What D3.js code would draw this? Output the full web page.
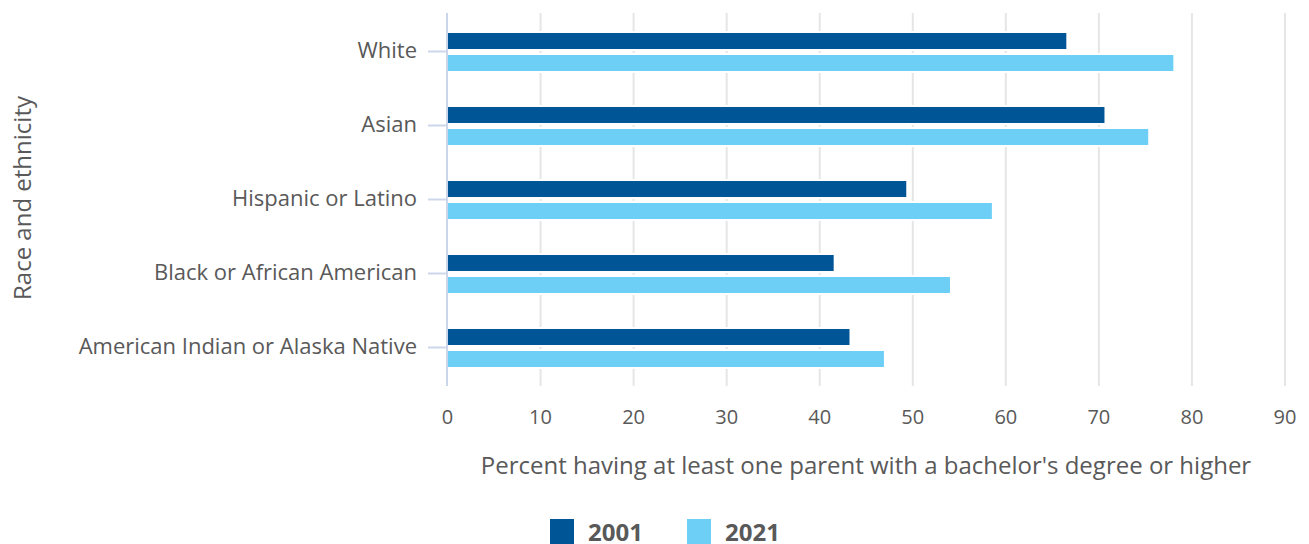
<!DOCTYPE html>
<html>
<head>
<meta charset="utf-8">
<script src="https://cdn.jsdelivr.net/npm/d3@7"></script>
<style>
  html, body { margin: 0; padding: 0; background: #fff; }
  svg { display: block; font-family: "Open Sans", sans-serif; }
</style>
</head>
<body>
<svg id="chart" width="1309" height="544"></svg>
<script>
const categories = ["White", "Asian", "Hispanic or Latino", "Black or African American", "American Indian or Alaska Native"];
const seriesNames = ["2001", "2021"];
const values2001 = [66.5, 70.6, 49.3, 41.5, 43.2];
const values2021 = [78.0, 75.3, 58.5, 54.0, 46.9];
const xTicks = [0, 10, 20, 30, 40, 50, 60, 70, 80, 90];
const xTitle = "Percent having at least one parent with a bachelor's degree or higher";
const yTitle = "Race and ethnicity";
const colors = ["#005596", "#6dcff6"];

(function () {
const svg = d3.select("#chart");
const mLeft = 447.5, mRight = 1285, mTop = 15, mBottom = 385;

const x = d3.scaleLinear().domain([0, 90]).range([mLeft, mRight]);
const y = d3.scaleBand().domain(categories).range([mTop, mBottom]).padding(0);
const inner = d3.scaleBand().domain(seriesNames).range([18, 56]).paddingInner(6 / 22).paddingOuter(0);

const textColor = "#595959";

// gridlines
svg.append("g").selectAll("line").data(xTicks.filter(d => d > 0)).join("line")
  .attr("x1", d => x(d)).attr("x2", d => x(d))
  .attr("y1", 13).attr("y2", 386)
  .attr("stroke", "#e6e6e6").attr("stroke-width", 2);

// x tick labels
svg.append("g").selectAll("text").data(xTicks).join("text")
  .attr("x", d => x(d)).attr("y", 424)
  .attr("text-anchor", "middle")
  .attr("font-size", 20).attr("fill", textColor)
  .text(d => d);

// bars
const data = [];
categories.forEach((c, i) => {
  data.push({ cat: c, s: "2001", v: values2001[i], color: colors[0] });
  data.push({ cat: c, s: "2021", v: values2021[i], color: colors[1] });
});
const gBars = svg.append("g");
gBars.selectAll("rect.bg").data(data).join("rect").attr("class", "bg")
  .attr("x", x(0)).attr("y", d => y(d.cat) + inner(d.s) - 2)
  .attr("width", d => x(d.v) - x(0) + 1).attr("height", inner.bandwidth() + 4)
  .attr("fill", "#fff");
gBars.selectAll("rect.bar").data(data).join("rect").attr("class", "bar")
  .attr("x", x(0)).attr("y", d => y(d.cat) + inner(d.s))
  .attr("width", d => x(d.v) - x(0)).attr("height", inner.bandwidth())
  .attr("fill", d => d.color);

// y axis line & ticks
svg.append("line").attr("x1", 447).attr("x2", 447).attr("y1", 13).attr("y2", 386)
  .attr("stroke", "#ccd6eb").attr("stroke-width", 2);
const yc = d => y(d) + y.bandwidth() / 2 - 0.5;
svg.append("g").selectAll("line").data(categories).join("line")
  .attr("x1", 428).attr("x2", 447)
  .attr("y1", yc).attr("y2", yc)
  .attr("stroke", "#ccd6eb").attr("stroke-width", 2);
svg.append("g").selectAll("text").data(categories).join("text")
  .attr("x", 417).attr("y", d => yc(d) + 6)
  .attr("text-anchor", "end")
  .attr("font-size", 22).attr("fill", textColor)
  .text(d => d);

// axis titles
svg.append("text").attr("x", 866).attr("y", 474)
  .attr("text-anchor", "middle").attr("font-size", 24).attr("fill", textColor)
  .text(xTitle);
svg.append("text").attr("transform", `translate(31,${(mTop + mBottom) / 2 - 2}) rotate(-90)`)
  .attr("text-anchor", "middle").attr("font-size", 24).attr("fill", textColor)
  .text(yTitle);

// legend
const legendX = [550, 687];
const lg = svg.append("g");
seriesNames.forEach((s, i) => {
  lg.append("rect").attr("x", legendX[i]).attr("y", 519).attr("width", 24).attr("height", 25).attr("fill", colors[i]);
  lg.append("text").attr("x", legendX[i] + 38).attr("y", 541)
    .attr("font-size", 24).attr("font-weight", "bold").attr("fill", textColor)
    .text(s);
});
})();
</script>
</body>
</html>
